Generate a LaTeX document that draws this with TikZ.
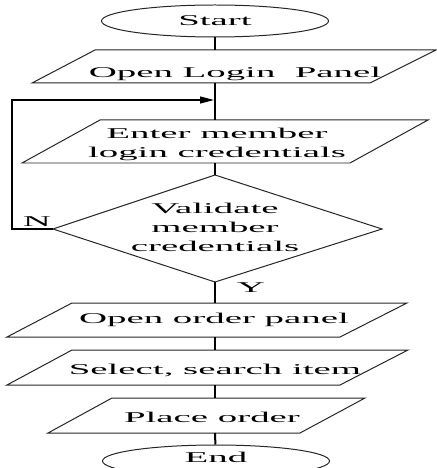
\documentclass[tikz,border=0pt]{standalone}
\usepackage{fontspec}
\setmainfont[FakeStretch=2.6]{Liberation Serif}
\usetikzlibrary{shapes.geometric,arrows.meta}

\tikzset{
  outline/.style={draw=black!85, line width=1pt, line join=miter},
  spine/.style={draw=black, line width=2pt},
  loopline/.style={draw=black, line width=1.2pt},
  txt/.style={font=\fontsize{15}{19}\selectfont, inner sep=0pt, align=center},
  terminal/.style={ellipse, outline, minimum width=227bp, minimum height=32bp,
                   inner sep=0pt, font=\fontsize{15}{19}\selectfont},
}

\begin{document}
\begin{tikzpicture}[x=1bp, y=-1bp]
  \useasboundingbox (0,0) rectangle (437,468);
  \fill[white] (0,0) rectangle (437,468);
  \clip (0,0) rectangle (437,468);

  % terminals
  \node[terminal] (start) at (215,21) {Start};
  \node[terminal] (end) at (216,461) {};
  \node[txt, anchor=base] (endtxt) at (216,462) {End};

  % input/output boxes (parallelograms)
  \coordinate (p1tl) at (95,50);  \coordinate (p1tr) at (436,50);
  \coordinate (p1br) at (370,83); \coordinate (p1bl) at (32,83);
  \draw[outline] (p1tl) -- (p1tr) -- (p1br) -- (p1bl) -- cycle;
  \coordinate (p1n) at (215,50); \coordinate (p1s) at (215,83);
  \node[txt, anchor=base] (t1) at (235,78) {Open Login~ Panel};

  \coordinate (p2tl) at (100,120); \coordinate (p2tr) at (428,120);
  \coordinate (p2br) at (350,163); \coordinate (p2bl) at (22,163);
  \draw[outline] (p2tl) -- (p2tr) -- (p2br) -- (p2bl) -- cycle;
  \coordinate (p2n) at (215,120); \coordinate (p2s) at (215,163);
  \node[txt] (t2) at (217,144) {Enter member\\login credentials};

  % decision
  \coordinate (dn) at (215,175); \coordinate (de) at (382,229);
  \coordinate (ds) at (215,282); \coordinate (dw) at (53,229);
  \draw[outline] (dn) -- (de) -- (ds) -- (dw) -- cycle;
  \node[txt] (t3) at (215,227) {Validate\\member\\credentials};

  \coordinate (p3tl) at (72,303);  \coordinate (p3tr) at (407,303);
  \coordinate (p3br) at (340,337); \coordinate (p3bl) at (7,337);
  \draw[outline] (p3tl) -- (p3tr) -- (p3br) -- (p3bl) -- cycle;
  \coordinate (p3n) at (215,303); \coordinate (p3s) at (215,337);
  \node[txt, anchor=base] (t4) at (214,323) {Open order panel};

  \coordinate (p4tl) at (72,350);  \coordinate (p4tr) at (408,350);
  \coordinate (p4br) at (340,385); \coordinate (p4bl) at (7,385);
  \draw[outline] (p4tl) -- (p4tr) -- (p4br) -- (p4bl) -- cycle;
  \coordinate (p4n) at (215,350); \coordinate (p4s) at (215,385);
  \node[txt, anchor=base] (t5) at (215,374) {Select, search item};

  \coordinate (p5tl) at (112,398); \coordinate (p5tr) at (365,398);
  \coordinate (p5br) at (300,433); \coordinate (p5bl) at (48,433);
  \draw[outline] (p5tl) -- (p5tr) -- (p5br) -- (p5bl) -- cycle;
  \coordinate (p5n) at (215,398); \coordinate (p5s) at (215,433);
  \node[txt, anchor=base] (t6) at (212,422) {Place order};

  % main flow
  \draw[spine] (start) -- (p1n);
  \draw[spine] (p1s) -- (p2n);
  \draw[spine] (p2s) -- (dn);
  \draw[spine] (ds) -- (p3n);
  \draw[spine] (p3s) -- (p4n);
  \draw[spine] (p4s) -- (p5n);
  \draw[spine] (p5s) -- (end);

  % "no" branch back to the credentials entry
  \coordinate (loopin) at (214,100);
  \coordinate (lc1) at (12,229);
  \coordinate (lc2) at (12,100);
  \draw[loopline, -{Triangle[length=14bp, width=7bp]}]
    (dw) -- (lc1) -- (lc2) -- (loopin);

  % branch labels
  \node[txt, anchor=base] (no) at (37,227) {N};
  \node[txt, anchor=base] (yes) at (251,292) {Y};
\end{tikzpicture}
\end{document}
